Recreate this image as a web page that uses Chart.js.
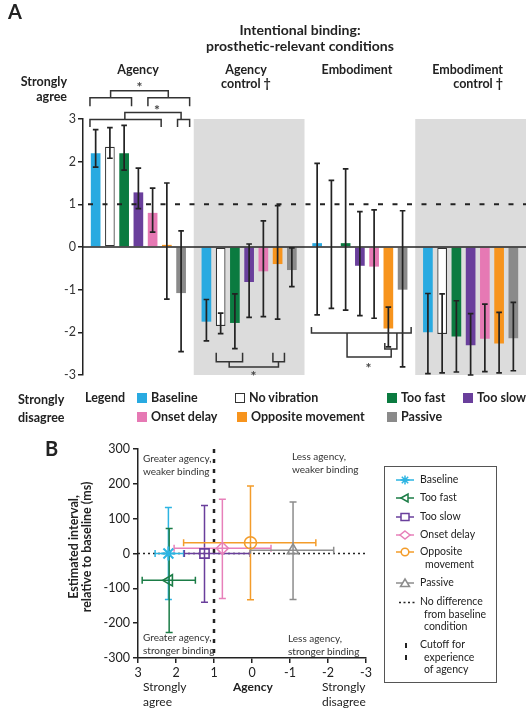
<!DOCTYPE html>
<html>
<head>
<meta charset="utf-8">
<script src="https://cdn.jsdelivr.net/npm/chart.js@4.4.1/dist/chart.umd.min.js"></script>
<style>
  body { margin: 0; background: #fff; font-family: Lato, "Open Sans", sans-serif; color: #222; }
  #page { position: relative; width: 527px; height: 713px; overflow: hidden; }
  .t { position: absolute; white-space: nowrap; }
  .b { font-weight: bold; }
  .a12 { font-size: 12.5px; line-height: 14px; }
  .q { font-size: 10px; line-height: 12.5px; color: #333; }
  .lg { font-size: 10.5px; line-height: 12.5px; color: #222; }
  .box { display: inline-block; width: 10px; height: 10px; margin-right: 4px; vertical-align: -1px; box-sizing: border-box; }
  canvas { position: absolute; left: 0; }
</style>
</head>
<body>
<div id="page">
  <canvas id="chartA" width="527" height="400" style="top:0"></canvas>
  <canvas id="chartB" width="527" height="293" style="top:420px"></canvas>

  <!-- panel A texts -->
  <div class="t b" style="left:8px;top:0;font-size:20px;line-height:22px">A</div>
  <div class="t b" style="left:150px;width:300px;top:22px;text-align:center;font-size:14px;line-height:15.5px">Intentional binding:<br>prosthetic-relevant conditions</div>
  <div class="t b a12" style="left:0;width:67px;top:74px;text-align:right;line-height:15px">Strongly<br>agree</div>
  <div class="t b a12" style="left:98px;width:80px;top:63px;text-align:center">Agency</div>
  <div class="t b a12" style="left:196px;width:100px;top:63px;text-align:center">Agency<br>control †</div>
  <div class="t b a12" style="left:307px;width:100px;top:63px;text-align:center">Embodiment</div>
  <div class="t b a12" style="left:403px;width:100px;top:63px;text-align:right">Embodiment<br>control †</div>

  <div class="t b a12" style="left:18px;top:391px;line-height:18px">Strongly<br>disagree</div>
  <div class="t b a12" style="left:85px;top:391px">Legend</div>
  <div id="legendA"></div>

  <!-- panel B texts -->
  <div class="t b" style="left:45px;top:437px;font-size:20px;line-height:22px">B</div>
  <div class="t b" style="left:-20px;top:534px;width:200px;text-align:center;font-size:12.5px;line-height:13px;transform:rotate(-90deg)">Estimated interval,<br>relative to baseline (ms)</div>
  <div class="t q" style="left:143px;top:452px">Greater agency,<br>weaker binding</div>
  <div class="t q" style="left:143px;top:631px">Greater agency,<br>stronger binding</div>
  <div class="t q" style="left:292px;top:450px">Less agency,<br>weaker binding</div>
  <div class="t q" style="left:288px;top:632px">Less agency,<br>stronger binding</div>
  <div class="t" style="left:143px;top:680px;font-size:12px;line-height:14.5px">Strongly<br>agree</div>
  <div class="t b" style="left:233px;top:680px;font-size:12px;line-height:14.5px">Agency</div>
  <div class="t" style="left:322px;top:680px;font-size:12px;line-height:14.5px">Strongly<br>disagree</div>

  <div style="position:absolute;left:384px;top:466px;width:113px;height:217px;border:1px solid #555;box-sizing:border-box"></div>
  <div id="legendB"></div>
</div>

<script>
// ---------- panel A data ----------
const groups = ['Agency', 'Agency control', 'Embodiment', 'Embodiment control'];
const series = ['Baseline', 'No vibration', 'Too fast', 'Too slow', 'Onset delay', 'Opposite movement', 'Passive'];

const baseline = [2.2, -1.75, 0.09, -2.0];
const noVibration = [2.35, -1.85, 0, -2.04];
const tooFast = [2.2, -1.78, 0.09, -2.1];
const tooSlow = [1.28, -0.82, -0.44, -2.3];
const onsetDelay = [0.8, -0.57, -0.46, -2.15];
const opposite = [0.05, -0.4, -1.91, -2.26];
const passive = [-1.08, -0.54, -1.0, -2.14];

const baselineErr = [[1.87, 2.75], [-2.2, -1.23], [-1.59, 1.96], [-2.97, -1.09]];
const noVibrationErr = [[2.08, 2.8], [-2.03, -1.55], [-1.44, 1.56], [-2.95, -1.1]];
const tooFastErr = [[1.8, 2.85], [-2.38, -1.1], [-1.48, 1.83], [-2.93, -1.26]];
const tooSlowErr = [[0.9, 1.85], [-1.65, 0.07], [-1.61, 0.83], [-3.0, -1.56]];
const onsetDelayErr = [[0.35, 1.38], [-1.63, 0.61], [-1.67, 0.87], [-2.92, -1.34]];
const oppositeErr = [[-1.22, 1.5], [-1.69, 0.97], [-2.34, -1.41], [-2.95, -1.53]];
const passiveErr = [[-2.45, 0.38], [-0.93, -0.02], [-2.81, 0.85], [-2.9, -1.3]];

const yTicksA = [-3, -2, -1, 0, 1, 2, 3];
const cutoff = 1;

// ---------- panel B data ----------
const conditionsB = ['Baseline', 'Too fast', 'Too slow', 'Onset delay', 'Opposite movement', 'Passive'];
const agencyB = [2.2, 2.18, 1.25, 0.78, 0.04, -1.08];
const agencyLo = [1.8, 1.49, 0.05, -0.5, -1.68, -2.15];
const agencyHi = [2.55, 2.89, 1.78, 2.05, 1.8, 0.04];
const intervalB = [0, -77, 0, 15, 31, 9];
const intervalLo = [-132, -227, -140, -129, -133, -132];
const intervalHi = [132, 72, 138, 156, 194, 148];

// ---------- styles ----------
const colorsA = ['#29aae1', '#ffffff', '#0b7b40', '#6a3f9c', '#e679b4', '#f7941d', '#8a8a8a'];
const colorsB = ['#2db4e2', '#1b7c46', '#6a3f9c', '#e780ba', '#f39c2a', '#8c8c8c'];
const shade = '#dcdcdc';
const ink = '#222';

const valuesA = [baseline, noVibration, tooFast, tooSlow, onsetDelay, opposite, passive];
const errorsA = [baselineErr, noVibrationErr, tooFastErr, tooSlowErr, onsetDelayErr, oppositeErr, passiveErr];

// significance brackets: points are [group, bar slot, value]
const brackets = [
  [[0, 1.05, 3.5], [0, 1.05, 3.66], [0, 5.1, 3.66], [0, 5.1, 3.5]],
  [[0, -0.4, 3.3], [0, -0.4, 3.5], [0, 2.52, 3.5], [0, 2.52, 3.3]],
  [[0, 3.67, 3.3], [0, 3.67, 3.5], [0, 6.6, 3.5], [0, 6.6, 3.3]],
  [[0, 2.05, 2.99], [0, 2.05, 3.15], [0, 6.0, 3.15], [0, 6.0, 2.99]],
  [[0, -0.4, 2.81], [0, -0.4, 2.99], [0, 4.6, 2.99], [0, 4.6, 2.81]],
  [[0, 5.75, 2.81], [0, 5.75, 2.99], [0, 6.6, 2.99], [0, 6.6, 2.81]],
  [[1, 0.69, -2.48], [1, 0.69, -2.69], [1, 2.54, -2.69], [1, 2.54, -2.48]],
  [[1, 4.67, -2.48], [1, 4.67, -2.69], [1, 5.48, -2.69], [1, 5.48, -2.48]],
  [[1, 1.6, -2.69], [1, 1.6, -2.81], [1, 5.06, -2.81], [1, 5.06, -2.69]],
  [[2, -0.4, -1.875], [2, -0.4, -2.015], [2, 6.6, -2.015], [2, 6.6, -1.875]],
  [[2, 4.75, -2.25], [2, 4.75, -2.39], [2, 5.6, -2.39], [2, 5.6, -2.015]],
  [[2, 2.1, -2.015], [2, 2.1, -2.58], [2, 5.2, -2.58], [2, 5.2, -2.39]]
];
const stars = [[0, 3.08, 3.84], [0, 4.3, 3.29], [1, 3.3, -2.95], [2, 3.6, -2.75]];

const panelA = {
  id: 'panelA',
  beforeDraw(chart) {
    const { ctx, chartArea: a, scales: { x, y } } = chart;
    const w = a.width / groups.length;
    ctx.save();
    ctx.fillStyle = shade;
    [1, 3].forEach(g => {
      const cx = x.getPixelForValue(g);
      ctx.fillRect(cx - w / 2, y.getPixelForValue(3), w, y.getPixelForValue(-3) - y.getPixelForValue(3));
    });
    ctx.restore();
  },
  afterDatasetsDraw(chart) {
    const { ctx, chartArea: a, scales: { y } } = chart;
    const m0 = chart.getDatasetMeta(0), m1 = chart.getDatasetMeta(1);
    const slotX = (g, s) => m0.data[g].x + s * (m1.data[g].x - m0.data[g].x);
    ctx.save();
    // zero line
    ctx.strokeStyle = ink;
    ctx.lineWidth = 1.5;
    ctx.beginPath();
    ctx.moveTo(a.left, y.getPixelForValue(0));
    ctx.lineTo(a.right, y.getPixelForValue(0));
    ctx.stroke();
    // cutoff line
    ctx.setLineDash([5, 9.5]);
    ctx.lineWidth = 2;
    ctx.beginPath();
    ctx.moveTo(a.left + 5, y.getPixelForValue(cutoff));
    ctx.lineTo(a.right, y.getPixelForValue(cutoff));
    ctx.stroke();
    ctx.setLineDash([]);
    // error bars
    ctx.lineWidth = 1.7;
    chart.data.datasets.forEach((ds, i) => {
      chart.getDatasetMeta(i).data.forEach((bar, j) => {
        const lo = y.getPixelForValue(ds.errors[j][0]);
        const hi = y.getPixelForValue(ds.errors[j][1]);
        ctx.beginPath();
        ctx.moveTo(bar.x, lo); ctx.lineTo(bar.x, hi);
        ctx.moveTo(bar.x - 2.8, lo); ctx.lineTo(bar.x + 2.8, lo);
        ctx.moveTo(bar.x - 2.8, hi); ctx.lineTo(bar.x + 2.8, hi);
        ctx.stroke();
      });
    });
    // brackets
    ctx.strokeStyle = '#333';
    ctx.lineWidth = 1.5;
    brackets.forEach(pts => {
      ctx.beginPath();
      pts.forEach(([g, s, v], k) => {
        const px = slotX(g, s), py = y.getPixelForValue(v);
        k ? ctx.lineTo(px, py) : ctx.moveTo(px, py);
      });
      ctx.stroke();
    });
    ctx.fillStyle = '#444';
    ctx.font = 'bold 14px Lato';
    ctx.textAlign = 'center';
    ctx.textBaseline = 'middle';
    stars.forEach(([g, s, v]) => ctx.fillText('*', slotX(g, s), y.getPixelForValue(v) + 4));
    ctx.restore();
  }
};

new Chart(document.getElementById('chartA'), {
  type: 'bar',
  data: {
    labels: groups,
    datasets: series.map((name, i) => ({
      label: name,
      data: valuesA[i],
      errors: errorsA[i],
      backgroundColor: colorsA[i],
      borderColor: i === 1 ? '#333' : colorsA[i],
      borderWidth: i === 1 ? 1.2 : 0,
      borderSkipped: false,
      categoryPercentage: 0.9,
      barPercentage: 0.68
    }))
  },
  options: {
    responsive: false,
    animation: false,
    layout: { padding: { left: 0, top: 119, right: 1, bottom: 25 } },
    plugins: { legend: { display: false }, tooltip: { enabled: false } },
    scales: {
      x: { display: false },
      y: {
        min: -3, max: 3,
        afterFit: (axis) => { axis.width = 83; },
        afterBuildTicks: (axis) => { axis.ticks = yTicksA.map(v => ({ value: v })); },
        border: { color: ink, width: 1.5 },
        grid: { drawOnChartArea: false, tickLength: 5, color: ink, lineWidth: 1.5 },
        ticks: { color: '#333', padding: 2, font: { family: 'Lato', size: 12.5 } }
      }
    }
  },
  plugins: [panelA]
});

// legend A
const legendSlots = [[137, 398], [235, 398], [387, 398], [463, 398], [137, 417], [237, 417], [387, 417]];
document.getElementById('legendA').innerHTML = series.map((name, i) => {
  const [lx, ly] = legendSlots[i];
  const border = i === 1 ? 'border:1px solid #333;' : '';
  return `<div class="t b a12" style="left:${lx}px;top:${ly - 8}px;line-height:16px">` +
    `<span class="box" style="background:${colorsA[i]};${border}"></span>${name}</div>`;
}).join('');

// ---------- panel B ----------
const styleB = [
  { pointStyle: 'star', pointRotation: 0, pointRadius: 7 },
  { pointStyle: 'triangle', pointRotation: 270, pointRadius: 6.5 },
  { pointStyle: 'rect', pointRotation: 0, pointRadius: 6.5 },
  { pointStyle: 'rectRot', pointRotation: 0, pointRadius: 6 },
  { pointStyle: 'circle', pointRotation: 0, pointRadius: 6 },
  { pointStyle: 'triangle', pointRotation: 0, pointRadius: 6.5 }
];

const panelB = {
  id: 'panelB',
  beforeDatasetsDraw(chart) {
    const { ctx, chartArea: a, scales: { x, y } } = chart;
    ctx.save();
    ctx.strokeStyle = ink;
    // no difference line
    ctx.lineWidth = 1.5;
    ctx.setLineDash([2, 3]);
    ctx.beginPath();
    ctx.moveTo(a.left, y.getPixelForValue(0));
    ctx.lineTo(a.right, y.getPixelForValue(0));
    ctx.stroke();
    // cutoff line
    ctx.lineWidth = 2.5;
    ctx.setLineDash([4, 6]);
    ctx.beginPath();
    ctx.moveTo(x.getPixelForValue(cutoff), a.top);
    ctx.lineTo(x.getPixelForValue(cutoff), a.bottom);
    ctx.stroke();
    ctx.setLineDash([]);
    // error bars
    ctx.lineWidth = 1.5;
    chart.data.datasets.forEach((ds, i) => {
      const p = chart.getDatasetMeta(i).data[0];
      const x0 = x.getPixelForValue(ds.xErr[0]), x1 = x.getPixelForValue(ds.xErr[1]);
      const y0 = y.getPixelForValue(ds.yErr[0]), y1 = y.getPixelForValue(ds.yErr[1]);
      ctx.strokeStyle = ds.borderColor;
      ctx.beginPath();
      ctx.moveTo(x0, p.y); ctx.lineTo(x1, p.y);
      ctx.moveTo(x0, p.y - 3.5); ctx.lineTo(x0, p.y + 3.5);
      ctx.moveTo(x1, p.y - 3.5); ctx.lineTo(x1, p.y + 3.5);
      ctx.moveTo(p.x, y0); ctx.lineTo(p.x, y1);
      ctx.moveTo(p.x - 3.5, y0); ctx.lineTo(p.x + 3.5, y0);
      ctx.moveTo(p.x - 3.5, y1); ctx.lineTo(p.x + 3.5, y1);
      ctx.stroke();
    });
    ctx.restore();
  }
};

new Chart(document.getElementById('chartB'), {
  type: 'scatter',
  data: {
    datasets: conditionsB.map((name, i) => Object.assign({
      label: name,
      data: [{ x: agencyB[i], y: intervalB[i] }],
      xErr: [agencyLo[i], agencyHi[i]],
      yErr: [intervalLo[i], intervalHi[i]],
      borderColor: colorsB[i],
      backgroundColor: 'rgba(255,255,255,0)',
      pointBorderWidth: i === 0 ? 2 : 1.6
    }, styleB[i]))
  },
  options: {
    responsive: false,
    animation: false,
    layout: { padding: { left: 0, top: 29, right: 161, bottom: 25 } },
    plugins: { legend: { display: false }, tooltip: { enabled: false } },
    scales: {
      x: {
        type: 'linear', reverse: true, min: -3, max: 3,
        afterFit: (axis) => { axis.height = 30; },
        border: { color: ink, width: 1.5 },
        grid: { drawOnChartArea: false, tickLength: 5, color: ink, lineWidth: 1.5 },
        ticks: { stepSize: 1, color: '#222', padding: 2, font: { family: 'Lato', size: 12.5 } }
      },
      y: {
        min: -300, max: 300,
        afterFit: (axis) => { axis.width = 138; },
        border: { color: ink, width: 1.5 },
        grid: { drawOnChartArea: false, tickLength: 5, color: ink, lineWidth: 1.5 },
        ticks: { stepSize: 100, color: '#222', padding: 3, font: { family: 'Lato', size: 12.5 } }
      }
    }
  },
  plugins: [panelB]
});

// legend B
const icon = (i) => {
  const c = colorsB[i];
  const shapes = [
    `<path d="M10 1.5v9M5.5 6h9M6.8 2.8l6.4 6.4M13.2 2.8l-6.4 6.4"/>`,
    `<path d="M6 6l7-4v8z" fill="#fff"/>`,
    `<rect x="6" y="2.5" width="8" height="7" fill="#fff"/>`,
    `<path d="M10 2l5 4-5 4-5-4z" fill="#fff"/>`,
    `<circle cx="10" cy="6" r="3.8" fill="#fff"/>`,
    `<path d="M10 2l4.5 7.5h-9z" fill="#fff"/>`
  ];
  return `<svg width="20" height="12" style="position:absolute;left:-25px;top:1px" stroke="${c}" stroke-width="1.5" fill="none">` +
    `<path d="M1 6h18"/>${shapes[i]}</svg>`;
};
const legendRows = [480, 498, 517, 535, 552, 583];
let htmlB = conditionsB.map((name, i) => {
  const label = i === 4 ? 'Opposite<br><span style="padding-left:5px">movement</span>' : name;
  return `<div class="t lg" style="left:420px;top:${legendRows[i] - 7}px">${icon(i)}${label}</div>`;
}).join('');
htmlB += `<div class="t lg" style="left:420px;top:595px"><svg width="20" height="12" style="position:absolute;left:-22px;top:1px"><path d="M1 6.5h16" stroke="#222" stroke-width="1.5" stroke-dasharray="2 2.5"/></svg>No difference<br><span style="padding-left:4px">from baseline</span><br><span style="padding-left:4px">condition</span></div>`;
htmlB += `<div class="t lg" style="left:420px;top:638px"><svg width="10" height="26" style="position:absolute;left:-19px;top:3px"><path d="M5 2v5M5 14v5" stroke="#222" stroke-width="2"/></svg>Cutoff for<br><span style="padding-left:4px">experience</span><br><span style="padding-left:4px">of agency</span></div>`;
document.getElementById('legendB').innerHTML = htmlB;
</script>
</body>
</html>
